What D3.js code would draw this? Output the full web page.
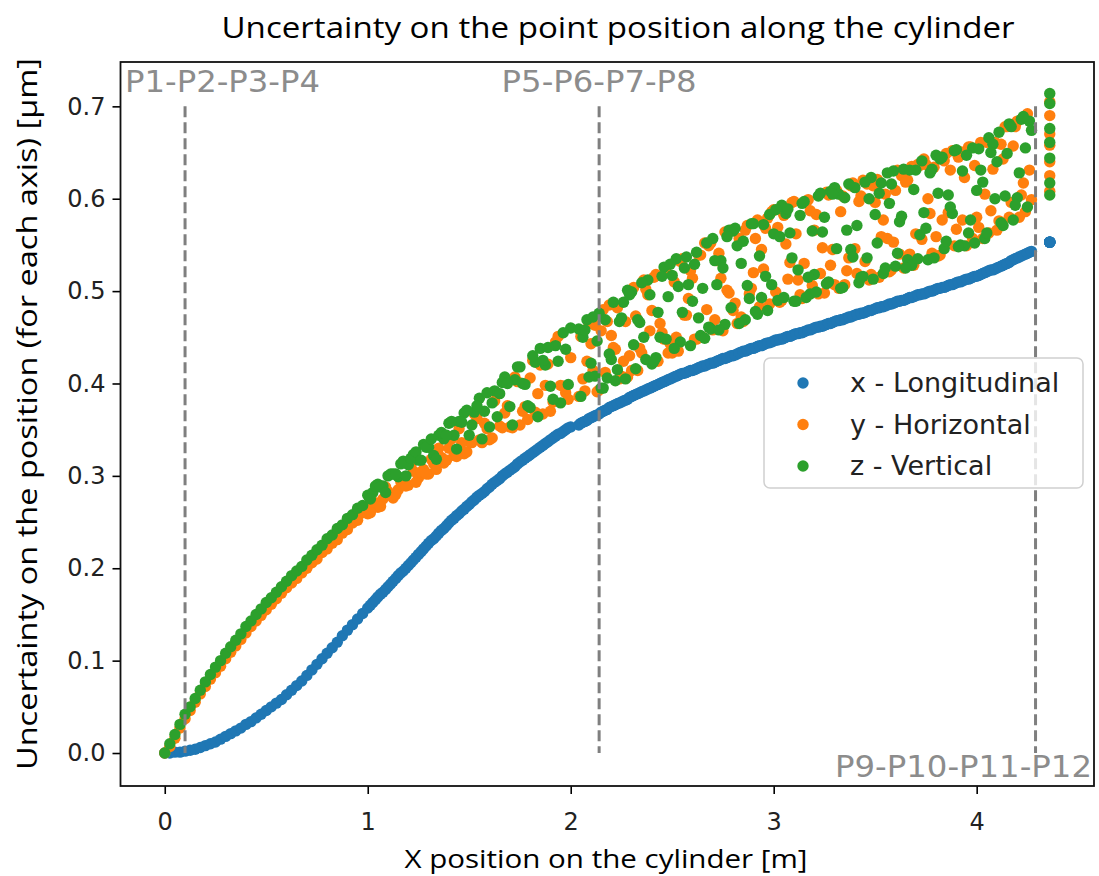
<!DOCTYPE html>
<html lang="en">
<head>
<meta charset="UTF-8">
<title>Uncertainty on the point position along the cylinder</title>
<style>
  body { margin: 0; background: #fff; }
</style>
</head>
<body>
<script src="https://d3js.org/d3.v7.min.js"></script>
<script>
// x position of each measured point along the cylinder [m]
const xPos = [
  // first pass
  0.000, 0.025, 0.050, 0.075, 0.100, 0.125, 0.150, 0.175, 0.200, 0.225,
  0.250, 0.275, 0.300, 0.325, 0.350, 0.375, 0.400, 0.425, 0.450, 0.475,
  0.500, 0.525, 0.550, 0.575, 0.600, 0.625, 0.650, 0.675, 0.700, 0.725,
  0.750, 0.775, 0.800, 0.825, 0.850, 0.875, 0.900, 0.925, 0.950, 0.975,
  1.000, 1.025, 1.050, 1.075, 1.100, 1.125, 1.150, 1.175, 1.200, 1.225,
  1.250, 1.275, 1.300, 1.325, 1.350, 1.375, 1.400, 1.425, 1.450, 1.475,
  1.500, 1.525, 1.550, 1.575, 1.600, 1.625, 1.650, 1.675, 1.700, 1.725,
  1.750, 1.775, 1.800, 1.825, 1.850, 1.875, 1.900, 1.925, 1.950, 1.975,
  2.000,
  2.04, 2.06, 2.08, 2.10, 2.12, 2.14, 2.16, 2.18, 2.20, 2.22,
  2.24, 2.26, 2.28, 2.30, 2.32, 2.34, 2.36, 2.38, 2.40, 2.42,
  2.44, 2.46, 2.48, 2.50, 2.52, 2.54, 2.56, 2.58, 2.60, 2.62,
  2.64, 2.66, 2.68, 2.70, 2.72, 2.74, 2.76, 2.78, 2.80, 2.82,
  2.84, 2.86, 2.88, 2.90, 2.92, 2.94, 2.96, 2.98, 3.00, 3.02,
  3.04, 3.06, 3.08, 3.10, 3.12, 3.14, 3.16, 3.18, 3.20, 3.22,
  3.24, 3.26, 3.28, 3.30, 3.32, 3.34, 3.36, 3.38, 3.40, 3.42,
  3.44, 3.46, 3.48, 3.50, 3.52, 3.54, 3.56, 3.58, 3.60, 3.62,
  3.64, 3.66, 3.68, 3.70, 3.72, 3.74, 3.76, 3.78, 3.80, 3.82,
  3.84, 3.86, 3.88, 3.90, 3.92, 3.94, 3.96, 3.98, 4.00, 4.02,
  4.04, 4.06, 4.08, 4.10, 4.12, 4.14, 4.16, 4.18, 4.20, 4.22,
  4.24, 4.26,
  // last section
  4.36, 4.36, 4.36, 4.36, 4.36, 4.36, 4.36,
  // second pass
  1.013, 1.038, 1.063, 1.088, 1.113, 1.138, 1.163, 1.188, 1.213, 1.238,
  1.263, 1.288, 1.313, 1.338, 1.363, 1.388, 1.413, 1.438, 1.463, 1.488,
  1.513, 1.538, 1.563, 1.588, 1.613, 1.638, 1.663, 1.688, 1.713, 1.738,
  1.763, 1.788, 1.813, 1.838, 1.863, 1.888, 1.913, 1.938, 1.963, 1.988,
  2.05, 2.07, 2.09, 2.11, 2.13, 2.15, 2.17, 2.19, 2.21, 2.23,
  2.25, 2.27, 2.29, 2.31, 2.33, 2.35, 2.37, 2.39, 2.41, 2.43,
  2.45, 2.47, 2.49, 2.51, 2.53, 2.55, 2.57, 2.59, 2.61, 2.63,
  2.65, 2.67, 2.69, 2.71, 2.73, 2.75, 2.77, 2.79, 2.81, 2.83,
  2.85, 2.87, 2.89, 2.91, 2.93, 2.95, 2.97, 2.99, 3.01, 3.03,
  3.05, 3.07, 3.09, 3.11, 3.13, 3.15, 3.17, 3.19, 3.21, 3.23,
  3.25, 3.27, 3.29, 3.31, 3.33, 3.35, 3.37, 3.39, 3.41, 3.43,
  3.45, 3.47, 3.49, 3.51, 3.53, 3.55, 3.57, 3.59, 3.61, 3.63,
  3.65, 3.67, 3.69, 3.71, 3.73, 3.75, 3.77, 3.79, 3.81, 3.83,
  3.85, 3.87, 3.89, 3.91, 3.93, 3.95, 3.97, 3.99, 4.01, 4.03,
  4.05, 4.07, 4.09, 4.11, 4.13, 4.15, 4.17, 4.19, 4.21, 4.23,
  4.25, 4.27
];

// x - Longitudinal
const yLong = [
  .000, .000, .001, .001, .002, .003, .004, .006, .008, .010,
  .012, .015, .018, .021, .024, .027, .031, .034, .038, .042,
  .046, .050, .054, .058, .063, .068, .073, .078, .084, .090,
  .096, .102, .108, .114, .120, .127, .133, .139, .145, .151,
  .157, .163, .169, .174, .180, .186, .192, .197, .203, .209,
  .215, .221, .227, .232, .238, .243, .249, .254, .259, .264,
  .269, .274, .279, .283, .288, .293, .297, .302, .306, .310,
  .315, .319, .323, .327, .331, .335, .339, .343, .346, .350,
  .353,
  .355, .358, .360, .363, .365, .367, .370, .372, .375, .377,
  .379, .381, .383, .386, .388, .390, .392, .394, .396, .398,
  .400, .402, .404, .406, .408, .410, .411, .413, .414, .416,
  .418, .419, .421, .422, .424, .426, .427, .429, .430, .432,
  .434, .435, .437, .438, .440, .441, .443, .444, .446, .447,
  .448, .450, .451, .453, .454, .455, .457, .458, .460, .461,
  .462, .464, .465, .467, .468, .469, .471, .472, .474, .475,
  .476, .478, .479, .481, .482, .483, .485, .486, .488, .489,
  .490, .492, .493, .495, .496, .497, .499, .500, .502, .503,
  .504, .506, .507, .509, .510, .512, .513, .515, .516, .518,
  .520, .522, .523, .525, .527, .529, .531, .534, .536, .538,
  .540, .542,
  .553, .553, .553, .553, .553, .553, .553,
  .160, .166, .172, .177, .183, .189, .195, .200, .206, .212,
  .218, .224, .230, .235, .241, .246, .252, .257, .262, .267,
  .272, .277, .281, .286, .291, .295, .300, .304, .308, .313,
  .317, .321, .325, .329, .333, .337, .341, .345, .348, .352,
  .357, .359, .362, .364, .366, .369, .371, .374, .376, .378,
  .380, .382, .385, .387, .389, .391, .393, .395, .397, .399,
  .401, .403, .405, .407, .409, .411, .412, .414, .415, .417,
  .419, .420, .422, .423, .425, .427, .428, .430, .431, .433,
  .435, .436, .438, .439, .441, .442, .444, .445, .447, .448,
  .449, .451, .452, .454, .455, .456, .458, .459, .461, .462,
  .463, .465, .466, .468, .469, .470, .472, .473, .475, .476,
  .477, .479, .480, .482, .483, .484, .486, .487, .489, .490,
  .491, .493, .494, .496, .497, .498, .500, .501, .503, .504,
  .505, .507, .508, .510, .511, .513, .514, .516, .517, .519,
  .521, .523, .524, .526, .528, .530, .533, .535, .537, .539,
  .541, .543
];

// y - Horizontal
const yHoriz = [
  .000, .007, .016, .027, .037, .046, .055, .064, .072, .080,
  .087, .094, .102, .109, .116, .123, .130, .137, .143, .149,
  .155, .161, .167, .173, .179, .184, .189, .195, .200, .206,
  .210, .217, .221, .227, .231, .238, .242, .249, .252, .260,
  .259, .268, .266, .275, .283, .276, .285, .294, .290, .305,
  .298, .307, .302, .313, .330, .314, .330, .322, .351, .324,
  .337, .367, .339, .357, .339, .381, .354, .368, .353, .407,
  .355, .375, .406, .369, .420, .398, .370, .445, .398, .390,
  .428,
  .386, .405, .424, .443, .463, .393, .480, .467, .452, .437,
  .405, .424, .407, .414, .473, .438, .512, .496, .479, .518,
  .465, .448, .433, .433, .450, .532, .474, .492, .514, .448,
  .539, .552, .549, .458, .533, .514, .564, .498, .479, .465,
  .472, .566, .497, .520, .577, .545, .568, .486, .588, .569,
  .490, .551, .531, .597, .512, .492, .596, .587, .566, .497,
  .547, .607, .528, .507, .503, .603, .522, .614, .546, .597,
  .620, .616, .518, .596, .515, .577, .557, .523, .609, .540,
  .525, .620, .635, .562, .636, .643, .600, .541, .559, .539,
  .641, .585, .652, .567, .651, .623, .656, .557, .580, .661,
  .605, .563, .632, .566, .659, .678, .580, .657, .684, .604,
  .586, .631,
  .705, .690, .670, .658, .640, .625, .608,
  .260, .271, .267, .288, .279, .280, .294, .289, .312, .293,
  .304, .302, .318, .307, .320, .317, .340, .321, .336, .326,
  .336, .362, .336, .351, .341, .389, .352, .376, .352, .402,
  .370, .361, .425, .389, .367, .421, .380, .451, .397, .383,
  .451, .392, .465, .414, .391, .457, .412, .485, .439, .482,
  .408, .467, .430, .504, .414, .433, .502, .457, .515, .424,
  .455, .521, .443, .510, .435, .535, .474, .522, .448, .539,
  .450, .480, .552, .469, .541, .457, .501, .566, .487, .557,
  .467, .571, .503, .557, .483, .524, .579, .586, .499, .488,
  .582, .513, .596, .562, .496, .530, .599, .506, .583, .519,
  .498, .604, .545, .609, .586, .507, .536, .617, .519, .603,
  .532, .512, .614, .621, .559, .605, .521, .553, .631, .625,
  .618, .540, .528, .637, .556, .637, .584, .634, .538, .577,
  .649, .631, .549, .645, .577, .549, .656, .636, .569, .557,
  .661, .587, .661, .576, .643, .678, .596, .678, .580, .617,
  .692, .599
];

// z - Vertical
const yVert = [
  .000, .010, .020, .031, .042, .050, .059, .068, .077, .085,
  .093, .100, .108, .115, .122, .129, .137, .143, .150, .156,
  .163, .168, .174, .180, .186, .192, .197, .202, .209, .214,
  .220, .225, .232, .236, .243, .247, .254, .258, .265, .268,
  .279, .282, .291, .289, .300, .302, .299, .316, .312, .323,
  .317, .334, .331, .322, .344, .340, .357, .344, .359, .368,
  .344, .369, .384, .370, .353, .392, .389, .407, .375, .404,
  .418, .399, .374, .423, .438, .420, .397, .441, .379, .437,
  .460,
  .459, .450, .469, .422, .408, .476, .395, .406, .426, .403,
  .467, .488, .501, .499, .416, .466, .450, .512, .421, .428,
  .450, .526, .494, .517, .535, .445, .525, .507, .489, .542,
  .452, .449, .461, .557, .507, .533, .464, .566, .565, .549,
  .530, .469, .492, .573, .475, .493, .516, .583, .562, .490,
  .593, .584, .563, .489, .523, .595, .493, .497, .518, .603,
  .564, .508, .608, .612, .605, .504, .566, .545, .612, .509,
  .516, .536, .623, .583, .606, .519, .628, .616, .527, .575,
  .632, .534, .528, .631, .561, .585, .534, .632, .647, .643,
  .546, .604, .584, .653, .550, .549, .563, .655, .609, .631,
  .557, .666, .659, .640, .574, .603, .681, .577, .601, .686,
  .655, .684,
  .714, .703, .676, .661, .644, .617, .604,
  .275, .289, .288, .282, .302, .302, .313, .300, .319, .326,
  .317, .331, .340, .318, .347, .344, .359, .329, .358, .371,
  .355, .376, .340, .390, .379, .364, .401, .400, .355, .418,
  .400, .376, .430, .364, .425, .439, .383, .424, .455, .399,
  .386, .458, .407, .472, .446, .395, .469, .432, .488, .415,
  .471, .405, .496, .442, .469, .509, .426, .496, .424, .477,
  .516, .448, .529, .438, .505, .477, .537, .441, .529, .471,
  .503, .552, .459, .533, .458, .525, .559, .482, .568, .465,
  .554, .506, .573, .478, .538, .572, .479, .507, .588, .559,
  .493, .589, .536, .489, .582, .597, .515, .565, .499, .606,
  .580, .510, .605, .546, .503, .601, .616, .537, .571, .515,
  .618, .600, .513, .552, .617, .525, .595, .630, .541, .581,
  .525, .631, .610, .535, .641, .568, .628, .536, .606, .645,
  .554, .591, .652, .548, .630, .647, .577, .552, .654, .618,
  .563, .650, .600, .672, .571, .649, .678, .593, .628, .689,
  .591, .674
];

const seriesNames = ['x - Longitudinal', 'y - Horizontal', 'z - Vertical'];
const seriesColors = ['#1f77b4', '#ff7f0e', '#2ca02c'];
const seriesValues = [yLong, yHoriz, yVert];

const xTicks = [0, 1, 2, 3, 4];
const yTicks = [0.0, 0.1, 0.2, 0.3, 0.4, 0.5, 0.6, 0.7];

// section marks along the cylinder
const sectionX = [0.10, 2.14, 4.29];
const sectionLabels = ['P1-P2-P3-P4', 'P5-P6-P7-P8', 'P9-P10-P11-P12'];
const sectionTop = 0.7;

const width = 1099, height = 876;
const frame = { left: 120.5, right: 1094, top: 62, bottom: 786 };
const tickFont = 'DejaVu Sans, sans-serif';
const labelFont = 'Open Sans, sans-serif';
const dotR = 5.7;

const svg = d3.select('body').append('svg')
  .attr('width', width)
  .attr('height', height);

// scales (matplotlib style 5% margins)
const x = d3.scaleLinear().domain([-0.218, 4.578]).range([frame.left, frame.right]);
const y = d3.scaleLinear().domain([-0.0357, 0.748]).range([frame.bottom, frame.top]);

// points
const pts = svg.append('g').classed('points', true);
seriesValues.forEach((vals, k) => {
  pts.append('g')
    .attr('fill', seriesColors[k])
    .selectAll('circle')
    .data(vals)
    .join('circle')
    .attr('cx', (d, i) => x(xPos[i]))
    .attr('cy', d => y(d))
    .attr('r', dotR);
});

// dashed section lines
svg.append('g').classed('sections', true)
  .selectAll('line')
  .data(sectionX)
  .join('line')
  .attr('x1', d => x(d)).attr('x2', d => x(d))
  .attr('y1', y(sectionTop)).attr('y2', y(0))
  .attr('stroke', '#7f7f7f')
  .attr('stroke-width', 3)
  .attr('stroke-dasharray', '11,5');

// section labels
const secText = svg.append('g').classed('section-labels', true)
  .attr('font-family', tickFont)
  .attr('font-size', 31)
  .attr('fill', '#8c8c8c');
secText.append('text').attr('x', 125).attr('y', 92).attr('text-anchor', 'start')
  .attr('textLength', 195).attr('lengthAdjust', 'spacingAndGlyphs').text(sectionLabels[0]);
secText.append('text').attr('x', x(sectionX[1])).attr('y', 92).attr('text-anchor', 'middle')
  .attr('textLength', 195).attr('lengthAdjust', 'spacingAndGlyphs').text(sectionLabels[1]);
secText.append('text').attr('x', 1092).attr('y', 777).attr('text-anchor', 'end')
  .attr('textLength', 257).attr('lengthAdjust', 'spacingAndGlyphs').text(sectionLabels[2]);

// axes
const xAxis = d3.axisBottom(x).tickValues(xTicks).tickFormat(d3.format('d')).tickSize(8).tickPadding(19);
const yAxis = d3.axisLeft(y).tickValues(yTicks).tickFormat(d3.format('.1f')).tickSize(8).tickPadding(7);

svg.append('g').classed('xAxis', true)
  .attr('transform', `translate(0,${frame.bottom})`)
  .call(xAxis)
  .call(g => g.select('.domain').remove());
svg.append('g').classed('yAxis', true)
  .attr('transform', `translate(${frame.left},0)`)
  .call(yAxis)
  .call(g => g.select('.domain').remove());

svg.selectAll('.xAxis .tick line, .yAxis .tick line')
  .attr('stroke', '#000').attr('stroke-width', 1.6);
svg.selectAll('.xAxis .tick text, .yAxis .tick text')
  .attr('font-family', tickFont).attr('font-size', 24).attr('fill', '#222');

// frame
svg.append('rect')
  .attr('x', frame.left).attr('y', frame.top)
  .attr('width', frame.right - frame.left).attr('height', frame.bottom - frame.top)
  .attr('fill', 'none').attr('stroke', '#111').attr('stroke-width', 1.8);

// title and axis labels
svg.append('text')
  .attr('x', 618).attr('y', 38)
  .attr('text-anchor', 'middle')
  .attr('font-family', labelFont).attr('font-size', 29)
  .attr('textLength', 793).attr('lengthAdjust', 'spacingAndGlyphs')
  .text('Uncertainty on the point position along the cylinder');

svg.append('text')
  .attr('x', 606).attr('y', 868)
  .attr('text-anchor', 'middle')
  .attr('font-family', labelFont).attr('font-size', 26)
  .attr('textLength', 403).attr('lengthAdjust', 'spacingAndGlyphs')
  .text('X position on the cylinder [m]');

svg.append('text')
  .attr('transform', 'translate(37,414) rotate(-90)')
  .attr('text-anchor', 'middle')
  .attr('font-family', labelFont).attr('font-size', 27)
  .attr('textLength', 712).attr('lengthAdjust', 'spacingAndGlyphs')
  .text('Uncertainty on the position (for each axis) [μm]');

// legend
const legend = svg.append('g').classed('legend', true);
legend.append('rect')
  .attr('x', 764).attr('y', 358)
  .attr('width', 319).attr('height', 130)
  .attr('rx', 6).attr('ry', 6)
  .attr('fill', '#fff').attr('fill-opacity', 0.8)
  .attr('stroke', '#d0d0d0').attr('stroke-width', 1.5);

const items = legend.selectAll('g.item')
  .data(seriesNames)
  .join('g')
  .classed('item', true)
  .attr('transform', (d, i) => `translate(803,${383 + i * 41.5})`);
items.append('circle')
  .attr('r', dotR)
  .attr('fill', (d, i) => seriesColors[i]);
items.append('text')
  .attr('x', 47).attr('dy', '0.35em')
  .attr('font-family', tickFont).attr('font-size', 27)
  .attr('fill', '#222')
  .text(d => d);
</script>
</body>
</html>
